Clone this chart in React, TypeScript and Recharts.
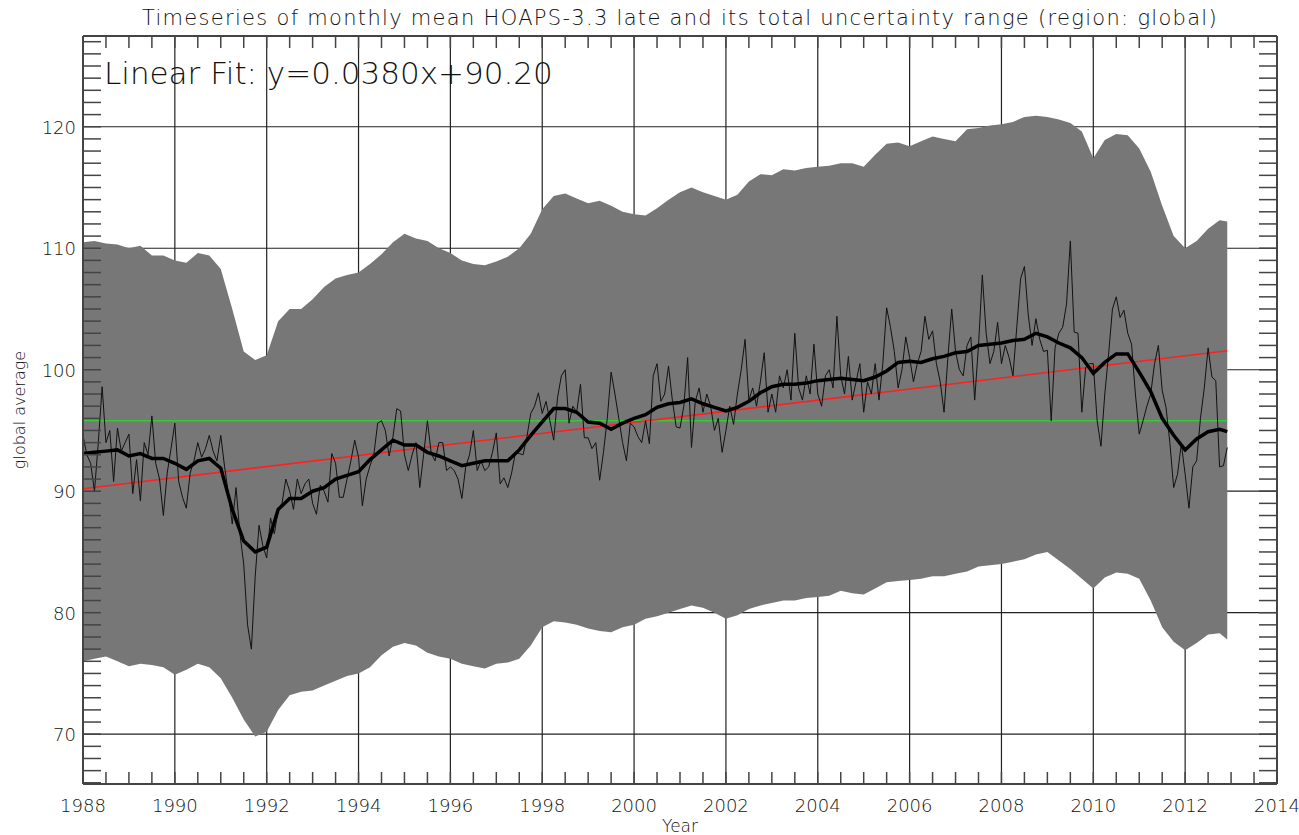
import React from "react";
import { ComposedChart, Area, Line, XAxis, YAxis, CartesianGrid } from "recharts";

const START_YEAR = 1988;

// monthly global mean, one row per year (Jan..Dec), 1988..2012
const MONTHLY = [
  94.6, 93.0, 92.3, 90.0, 94.0, 98.6, 94.0, 95.0, 90.8, 95.2, 93.3, 94.0,
  94.7, 89.8, 92.6, 89.2, 94.0, 93.0, 96.2, 92.3, 91.0, 88.0, 91.5, 93.5,
  95.6, 90.8, 89.5, 88.6, 91.5, 92.5, 94.0, 92.8, 93.5, 94.6, 93.3, 92.5,
  94.6, 92.0, 89.8, 87.3, 90.3, 86.5, 84.0, 79.0, 77.0, 83.0, 87.2, 85.5,
  84.5, 87.8, 86.5, 88.5, 89.0, 91.0, 90.0, 88.5, 91.0, 89.8, 90.6, 91.0,
  89.0, 88.1, 90.5, 90.0, 89.1, 93.1, 92.3, 89.5, 89.5, 91.0, 92.5, 94.2,
  92.8, 88.8, 91.0, 92.1, 93.0, 95.6, 95.8, 95.0, 92.9, 94.5, 96.8, 96.6,
  93.0, 91.7, 93.0, 94.0, 90.3, 93.0, 95.8, 93.1, 92.5, 94.0, 94.0, 91.7,
  92.0, 91.7, 91.0, 89.4, 92.0, 93.0, 95.0, 91.7, 92.5, 91.7, 92.0, 93.2,
  94.8, 90.6, 91.1, 90.3, 91.5, 93.2, 93.1, 93.0, 94.5, 96.4, 97.0, 98.1,
  96.4, 97.4, 95.8, 94.2, 97.7, 99.5, 100.0, 95.6, 97.0, 96.5, 98.8, 94.4,
  94.4, 93.5, 94.0, 90.9, 93.2, 96.0, 99.8, 98.0, 96.0, 94.0, 92.5, 95.6,
  95.3, 94.5, 94.0, 95.8, 93.9, 99.5, 100.5, 97.4, 98.0, 100.3, 97.5, 95.3,
  95.2, 97.0, 101.0, 93.6, 97.4, 98.5, 96.5, 98.0, 97.0, 95.0, 96.0, 93.2,
  95.0, 97.0, 95.5, 98.0, 100.0, 102.5, 97.5, 98.5, 97.0, 99.0, 101.4, 96.5,
  98.0, 96.5, 99.5, 98.5, 100.0, 97.5, 103.0, 98.5, 97.5, 99.5, 98.0, 102.1,
  98.0, 97.0, 99.5, 100.0, 98.5, 104.4, 99.5, 98.0, 101.1, 97.5, 99.0, 100.5,
  96.5, 99.0, 98.0, 100.5, 97.5, 100.5, 105.1, 103.5, 101.5, 98.5, 100.0, 102.7,
  101.0, 99.0, 100.5, 101.5, 104.4, 102.5, 103.2, 100.5, 99.0, 96.5, 101.0, 105.0,
  101.5, 100.0, 99.5, 102.0, 102.7, 97.5, 102.0, 107.8, 103.0, 100.5, 101.5, 103.9,
  100.5, 102.0, 101.0, 99.5, 103.5, 107.5, 108.5, 104.5, 102.0, 104.2, 102.5, 101.5,
  101.6, 95.8, 101.8, 103.0, 103.5, 105.4, 110.6, 103.1, 103.0, 96.5, 100.2, 100.5,
  100.5, 95.8, 93.7, 98.0, 101.3, 105.0, 106.0, 104.3, 104.9, 103.0, 102.1, 98.0,
  94.7, 95.8, 97.0, 98.0, 100.5, 102.0, 98.3, 96.9, 94.0, 90.3, 91.4, 93.9,
  91.4, 88.6, 92.0, 92.5, 96.0, 98.5, 101.8, 99.4, 99.1, 92.0, 92.1, 93.6,
];

// quarterly samples (Jan, Apr, Jul, Oct) plus the last month, Dec 2012
const UPPER = [
  110.5, 110.6, 110.4, 110.3,
  110.0, 110.2, 109.4, 109.4,
  109.0, 108.8, 109.6, 109.4,
  108.3, 105.0, 101.5, 100.8,
  101.2, 104.0, 105.0, 105.0,
  105.8, 106.8, 107.5, 107.8,
  108.0, 108.7, 109.5, 110.5,
  111.2, 110.8, 110.6, 110.0,
  109.6, 109.0, 108.7, 108.6,
  108.9, 109.3, 110.0, 111.2,
  113.2, 114.3, 114.5, 114.1,
  113.7, 113.9, 113.5, 113.0,
  112.8, 112.7, 113.3, 114.0,
  114.6, 115.0, 114.6, 114.3,
  114.0, 114.4, 115.5, 116.1,
  116.0, 116.5, 116.4, 116.6,
  116.7, 116.8, 117.0, 117.0,
  116.7, 117.7, 118.6, 118.7,
  118.4, 118.8, 119.2, 119.0,
  118.8, 119.8, 119.9, 120.1,
  120.2, 120.4, 120.8, 120.9,
  120.8, 120.6, 120.3, 119.6,
  117.4, 118.9, 119.4, 119.3,
  118.2, 116.3, 113.5, 111.0,
  110.0, 110.6, 111.6, 112.3, 112.2,
];

const LOWER = [
  76.0, 76.2, 76.4, 76.0,
  75.6, 75.8, 75.7, 75.5,
  74.9, 75.3, 75.8, 75.5,
  74.6, 73.0, 71.2, 69.8,
  70.2, 72.0, 73.2, 73.5,
  73.6, 74.0, 74.4, 74.8,
  75.0, 75.5, 76.5, 77.2,
  77.5, 77.3, 76.7, 76.4,
  76.2, 75.8, 75.6, 75.4,
  75.8, 75.9, 76.2, 77.3,
  78.8, 79.3, 79.2, 79.0,
  78.7, 78.5, 78.4, 78.8,
  79.0, 79.5, 79.7, 80.0,
  80.3, 80.6, 80.4, 80.0,
  79.5, 79.8, 80.3, 80.6,
  80.8, 81.0, 81.0, 81.2,
  81.3, 81.4, 81.8, 81.6,
  81.5, 82.0, 82.5, 82.6,
  82.7, 82.8, 83.0, 83.0,
  83.2, 83.4, 83.8, 83.9,
  84.0, 84.2, 84.4, 84.8,
  85.0, 84.3, 83.6, 82.8,
  82.0, 82.9, 83.3, 83.2,
  82.8, 81.0, 78.8, 77.6,
  76.9, 77.5, 78.2, 78.3, 77.8,
];

const RUNNING = [
  93.1, 93.2, 93.3, 93.4,
  92.9, 93.1, 92.7, 92.7,
  92.3, 91.8, 92.5, 92.7,
  91.9, 88.5, 85.9, 85.0,
  85.4, 88.5, 89.4, 89.4,
  90.0, 90.3, 91.0, 91.3,
  91.6, 92.6, 93.4, 94.2,
  93.8, 93.8, 93.2, 92.9,
  92.5, 92.1, 92.3, 92.5,
  92.5, 92.5, 93.4, 94.6,
  95.7, 96.8, 96.8, 96.5,
  95.7, 95.6, 95.1, 95.6,
  96.0, 96.3, 96.9, 97.2,
  97.3, 97.6, 97.2, 96.9,
  96.6, 96.9, 97.4, 98.1,
  98.6, 98.8, 98.8, 98.9,
  99.1, 99.2, 99.3, 99.2,
  99.1, 99.4, 99.9, 100.6,
  100.7, 100.6, 100.9, 101.1,
  101.4, 101.5, 102.0, 102.1,
  102.2, 102.4, 102.5, 103.0,
  102.7, 102.2, 101.8, 101.0,
  99.7, 100.6, 101.3, 101.3,
  99.8, 98.2, 96.0, 94.6,
  93.4, 94.3, 94.9, 95.1, 94.9,
];

// linear fit end values and overall mean
const FIT_VALUES = [90.2, 101.56];
const MEAN_VALUE = 95.8;

const X_MAJOR = [1988, 1990, 1992, 1994, 1996, 1998, 2000, 2002, 2004, 2006, 2008, 2010, 2012, 2014];
const Y_MAJOR = [70, 80, 90, 100, 110, 120];
const X_MINOR = Array.from({ length: 53 }, (_, i) => 1988 + i * 0.5);
const Y_MINOR = Array.from({ length: 62 }, (_, i) => 66 + i);
const X_DOMAIN = [1988, 2014];
const Y_DOMAIN = [65.9, 127.47];

const lastT = START_YEAR + (MONTHLY.length - 1) / 12;
const monthlyData = MONTHLY.map((v, i) => ({ t: START_YEAR + i / 12, v }));
const bandTime = (i: number) => (i < UPPER.length - 1 ? START_YEAR + i / 4 : lastT);
const bandData = UPPER.map((hi, i) => ({ t: bandTime(i), range: [LOWER[i], hi] }));
const runningData = RUNNING.map((v, i) => ({ t: bandTime(i), v }));
const fitData = [
  { t: START_YEAR, v: FIT_VALUES[0] },
  { t: lastT, v: FIT_VALUES[1] },
];
const meanData = [
  { t: START_YEAR, v: MEAN_VALUE },
  { t: lastT, v: MEAN_VALUE },
];

const FONT = "'DejaVu Sans', sans-serif";
const TXT = "#111";
const AXIS = "#444";

const BottomTick = (props: any) => {
  const { x, y, payload } = props;
  const v = payload.value;
  const major = X_MAJOR.includes(v);
  return (
    <g>
      <line x1={x} x2={x} y1={y} y2={y - 12} stroke={AXIS} strokeWidth={1.5} />
      {major && (
        <text x={x} y={y + 28} textAnchor="middle" fontSize={18} fill={TXT} fontFamily={FONT} fontWeight={300}>
          {v}
        </text>
      )}
    </g>
  );
};

const TopTick = (props: any) => {
  const { x, y } = props;
  return <line x1={x} x2={x} y1={y} y2={y + 12} stroke={AXIS} strokeWidth={1.5} />;
};

const LeftTick = (props: any) => {
  const { x, y, payload } = props;
  const v = payload.value;
  return (
    <g>
      <line x1={x} x2={x + 18} y1={y} y2={y} stroke={AXIS} strokeWidth={1.5} />
      {Y_MAJOR.includes(v) && (
        <text x={x - 7} y={y + 7} textAnchor="end" fontSize={18} fill={TXT} fontFamily={FONT} fontWeight={300}>
          {v}
        </text>
      )}
    </g>
  );
};

const RightTick = (props: any) => {
  const { x, y } = props;
  return <line x1={x} x2={x - 18} y1={y} y2={y} stroke={AXIS} strokeWidth={1.5} />;
};

export default function App() {
  return (
    <div
      style={{
        position: "absolute",
        left: 0,
        top: 0,
        width: 1299,
        height: 835,
        background: "#fff",
        fontFamily: FONT,
        fontWeight: 300,
        color: TXT,
      }}
    >
      <ComposedChart width={1299} height={835} margin={{ top: 0, right: 0, bottom: 0, left: 0 }}>
        <CartesianGrid
          xAxisId="x"
          yAxisId="y"
          horizontalValues={Y_MAJOR}
          verticalValues={X_MAJOR}
          stroke="#222"
          strokeWidth={1.2}
        />
        <XAxis
          xAxisId="x"
          dataKey="t"
          type="number"
          domain={X_DOMAIN}
          allowDataOverflow
          ticks={X_MINOR}
          interval={0}
          tick={<BottomTick />}
          tickLine={false}
          tickSize={0}
          tickMargin={0}
          height={51}
          axisLine={{ stroke: AXIS, strokeWidth: 2 }}
        />
        <XAxis
          xAxisId="top"
          orientation="top"
          dataKey="t"
          type="number"
          domain={X_DOMAIN}
          allowDataOverflow
          ticks={X_MINOR}
          interval={0}
          tick={<TopTick />}
          tickLine={false}
          tickSize={0}
          tickMargin={0}
          height={36}
          axisLine={{ stroke: AXIS, strokeWidth: 2 }}
        />
        <YAxis
          yAxisId="y"
          type="number"
          domain={Y_DOMAIN}
          allowDataOverflow
          ticks={Y_MINOR}
          interval={0}
          tick={<LeftTick />}
          tickLine={false}
          tickSize={0}
          tickMargin={0}
          width={83}
          axisLine={{ stroke: AXIS, strokeWidth: 2 }}
        />
        <YAxis
          yAxisId="right"
          orientation="right"
          type="number"
          domain={Y_DOMAIN}
          allowDataOverflow
          ticks={Y_MINOR}
          interval={0}
          tick={<RightTick />}
          tickLine={false}
          tickSize={0}
          tickMargin={0}
          width={22}
          axisLine={{ stroke: AXIS, strokeWidth: 2 }}
        />
        <Area
          xAxisId="x"
          yAxisId="y"
          data={bandData}
          dataKey="range"
          type="linear"
          stroke="none"
          fill="#777777"
          fillOpacity={1}
          isAnimationActive={false}
        />
        <Line
          xAxisId="x"
          yAxisId="y"
          data={meanData}
          dataKey="v"
          type="linear"
          stroke="#33cc33"
          strokeWidth={1.6}
          dot={false}
          isAnimationActive={false}
        />
        <Line
          xAxisId="x"
          yAxisId="y"
          data={fitData}
          dataKey="v"
          type="linear"
          stroke="#ff2020"
          strokeWidth={1.6}
          dot={false}
          isAnimationActive={false}
        />
        <Line
          xAxisId="x"
          yAxisId="y"
          data={monthlyData}
          dataKey="v"
          type="linear"
          stroke="#111"
          strokeWidth={1}
          dot={false}
          isAnimationActive={false}
        />
        <Line
          xAxisId="x"
          yAxisId="y"
          data={runningData}
          dataKey="v"
          type="linear"
          stroke="#000"
          strokeWidth={3.5}
          dot={false}
          isAnimationActive={false}
        />
      </ComposedChart>
      <div
        style={{
          position: "absolute",
          left: 83,
          width: 1194,
          top: 6,
          textAlign: "center",
          fontSize: 21,
          letterSpacing: 1.3,
          lineHeight: "24px",
          whiteSpace: "nowrap",
        }}
      >
        Timeseries of monthly mean HOAPS-3.3 late and its total uncertainty range (region: global)
      </div>
      <div
        style={{
          position: "absolute",
          left: 104,
          top: 55,
          fontSize: 31,
          lineHeight: "36px",
          whiteSpace: "nowrap",
        }}
      >
        Linear Fit: y=0.0380x+90.20
      </div>
      <div
        style={{
          position: "absolute",
          left: 83,
          width: 1194,
          top: 816,
          textAlign: "center",
          fontSize: 17,
          lineHeight: "20px",
        }}
      >
        Year
      </div>
      <div
        style={{
          position: "absolute",
          left: 20,
          top: 410,
          fontSize: 16,
          lineHeight: "18px",
          whiteSpace: "nowrap",
          transform: "translate(-50%, -50%) rotate(-90deg)",
        }}
      >
        global average
      </div>
    </div>
  );
}
